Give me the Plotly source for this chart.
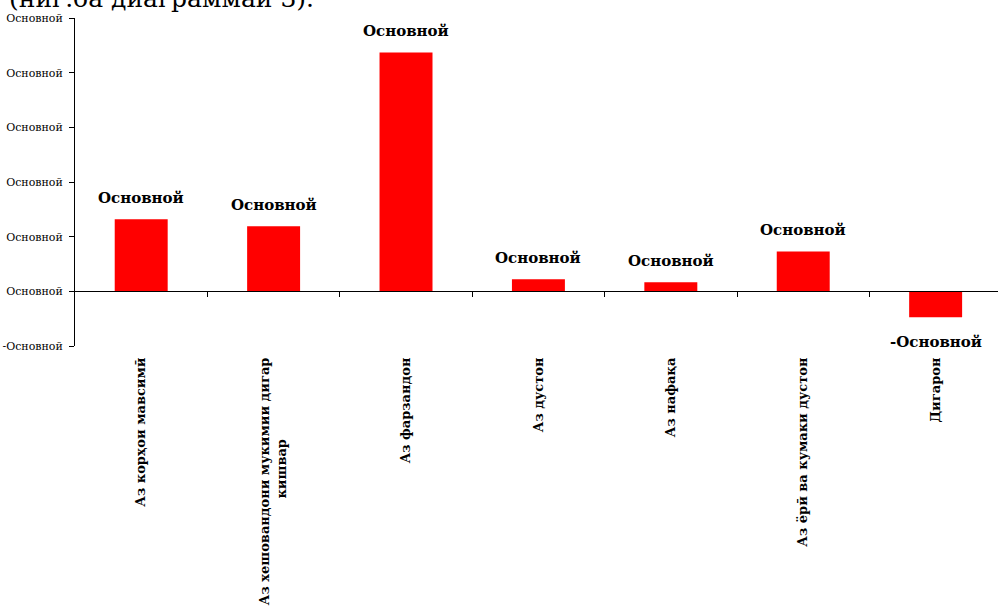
import plotly.graph_objects as go

NB = "\u00a0"
categories = [
    "Аз корҳои мавсимӣ",
    "Аз хешовандони мукимии дигар<br>кишвар" + NB * 18,
    "Аз фарзандон",
    "Аз дустон",
    "Аз нафақа",
    "Аз ёрӣ ва кумаки дустон",
    "Дигарон",
]
values = [13.2, 11.9, 43.7, 2.2, 1.65, 7.3, -4.75]
data_labels = ["Основной", "Основной", "Основной", "Основной", "Основной", "Основной", "-Основной"]
y_tickvals = [-10, 0, 10, 20, 30, 40, 50]
y_ticktext = ["-Основной", "Основной", "Основной", "Основной", "Основной", "Основной", "Основной"]
boundaries = [0.5, 1.5, 2.5, 3.5, 4.5, 5.5]
caption = "(ниг.ба диаграммаи 3)."

SERIF = "DejaVu Serif"

fig = go.Figure()
fig.add_trace(go.Bar(
    x=list(range(len(categories))),
    y=values,
    width=0.4,
    marker=dict(color="#FF0000", line=dict(width=0)),
    showlegend=False,
    hoverinfo="skip",
))
# invisible helper trace so the zero-line axis (x2) is rendered
fig.add_trace(go.Scatter(
    x=boundaries, y=[0] * len(boundaries), xaxis="x2", yaxis="y",
    mode="none", showlegend=False, hoverinfo="skip",
))

for i, (v, t) in enumerate(zip(values, data_labels)):
    fig.add_annotation(
        x=i, y=v, xref="x", yref="y", text="<b>%s</b>" % t,
        showarrow=False,
        yanchor="bottom" if v >= 0 else "top",
        yshift=10 if v >= 0 else -14,
        font=dict(family=SERIF, size=15, color="black"),
    )

fig.add_annotation(
    x=-0.0737, xref="paper", xanchor="left",
    y=1.0, yref="paper", yanchor="bottom", yshift=3,
    text=caption, showarrow=False,
    font=dict(family=SERIF, size=25, color="black"),
)

xr = [-0.5, 6.471]
fig.update_layout(
    width=998, height=608,
    margin=dict(l=75, r=0, t=18, b=262, autoexpand=False),
    paper_bgcolor="white", plot_bgcolor="white",
    xaxis=dict(
        range=xr,
        automargin=False,
        tickvals=list(range(len(categories))),
        ticktext=["<b>%s</b>" % c for c in categories],
        tickangle=-90,
        ticks="",
        ticklabelstandoff=8,
        showline=False, showgrid=False, zeroline=False,
        tickfont=dict(family=SERIF, size=13, color="black"),
    ),
    xaxis2=dict(
        overlaying="x", anchor="free", position=1/6,
        automargin=False,
        range=xr,
        tickvals=boundaries,
        ticks="outside", ticklen=5, tickcolor="black", tickwidth=1,
        showticklabels=False,
        showline=True, linecolor="black", linewidth=1,
        showgrid=False, zeroline=False,
    ),
    yaxis=dict(
        range=[-10, 50],
        automargin=False,
        tickvals=y_tickvals,
        ticktext=y_ticktext,
        ticks="outside", ticklen=5, tickcolor="black",
        ticklabelstandoff=4,
        showline=True, linecolor="black", linewidth=1,
        showgrid=False, zeroline=False,
        tickfont=dict(family=SERIF, size=11, color="black"),
    ),
)

fig.write_html(
    "out.html",
    config={"displayModeBar": False},
    post_script="document.body.style.margin='0';",
)
